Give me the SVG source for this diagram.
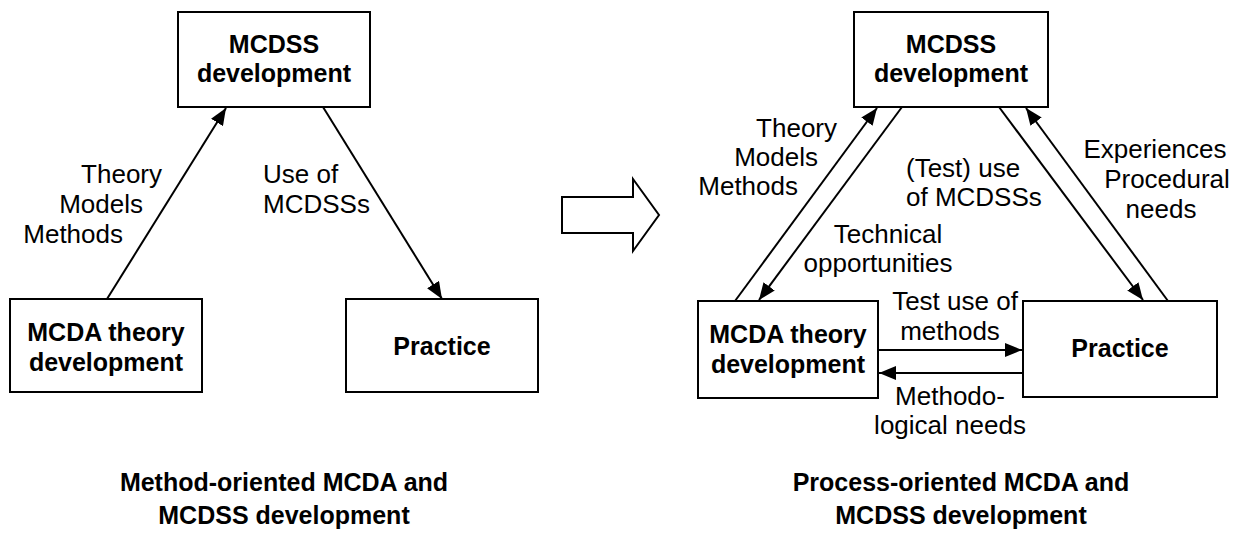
<svg xmlns="http://www.w3.org/2000/svg" width="1247" height="534" viewBox="0 0 1247 534">
<style>
text{font-family:"Liberation Sans",Arial,sans-serif;font-size:26px;fill:#000}
.b{font-weight:bold;font-size:25px}
.c{text-anchor:middle}
.e{text-anchor:end}
rect,.blk{fill:#fff;stroke:#000;stroke-width:2}
.ln{stroke:#000;stroke-width:2;fill:none}
.a{marker-end:url(#ah)}
</style>
<defs>
<marker id="ah" markerUnits="userSpaceOnUse" markerWidth="18" markerHeight="14" refX="17" refY="7" orient="auto">
<path d="M0,0 L17,7 L0,14 z" fill="#000"/>
</marker>
</defs>
<g id="connectors">
<line class="ln a" x1="107" y1="299" x2="226" y2="108"/>
<line class="ln a" x1="323" y1="107" x2="442" y2="299"/>
<line class="ln a" x1="735" y1="301" x2="877" y2="108"/>
<line class="ln a" x1="902" y1="107" x2="759" y2="300"/>
<line class="ln a" x1="999" y1="107" x2="1143" y2="300"/>
<line class="ln a" x1="1168" y1="301" x2="1026" y2="108"/>
<line class="ln a" x1="878" y1="350" x2="1022" y2="350"/>
<line class="ln a" x1="1023" y1="373" x2="879" y2="373"/>
</g>
<g id="labels">
<text class="e" x="162" y="183">Theory</text>
<text class="e" x="143" y="213">Models</text>
<text class="e" x="123" y="243">Methods</text>
<text x="263" y="183">Use of</text>
<text x="263" y="213">MCDSSs</text>
<text class="e" x="837" y="137">Theory</text>
<text class="e" x="818" y="166">Models</text>
<text class="e" x="798" y="195">Methods</text>
<text x="906" y="177">(Test) use</text>
<text x="906" y="206">of MCDSSs</text>
<text class="c" x="888" y="243">Technical</text>
<text class="c" x="878" y="272">opportunities</text>
<text class="c" x="955" y="310">Test use of</text>
<text class="c" x="950" y="340">methods</text>
<text class="c" x="950" y="405">Methodo-</text>
<text class="c" x="950" y="434">logical needs</text>
<text class="c" x="1155" y="158">Experiences</text>
<text class="c" x="1167" y="188">Procedural</text>
<text class="c" x="1161" y="218">needs</text>
</g>
<g id="node-mcdss-left">
<rect x="178" y="12" width="192" height="95"/>
<text class="b c" x="274" y="53">MCDSS</text>
<text class="b c" x="274" y="82">development</text>
</g>
<g id="node-mcda-left">
<rect x="10" y="299" width="192" height="93"/>
<text class="b c" x="106" y="341">MCDA theory</text>
<text class="b c" x="106" y="371">development</text>
</g>
<g id="node-practice-left">
<rect x="346" y="299" width="192" height="93"/>
<text class="b c" x="442" y="355">Practice</text>
</g>
<g id="node-mcdss-right">
<rect x="854" y="12" width="194" height="95"/>
<text class="b c" x="951" y="53">MCDSS</text>
<text class="b c" x="951" y="82">development</text>
</g>
<g id="node-mcda-right">
<rect x="698" y="301" width="180" height="97"/>
<text class="b c" x="788" y="343">MCDA theory</text>
<text class="b c" x="788" y="373">development</text>
</g>
<g id="node-practice-right">
<rect x="1023" y="301" width="194" height="96"/>
<text class="b c" x="1120" y="357">Practice</text>
</g>
<g id="block-arrow">
<path class="blk" d="M562,197 L633,197 L633,179 L659,215 L633,251 L633,233 L562,233 Z"/>
</g>
<g id="titles">
<text class="b c" x="284" y="491">Method-oriented MCDA and</text>
<text class="b c" x="284" y="524">MCDSS development</text>
<text class="b c" x="961" y="491">Process-oriented MCDA and</text>
<text class="b c" x="961" y="524">MCDSS development</text>
</g>
</svg>
